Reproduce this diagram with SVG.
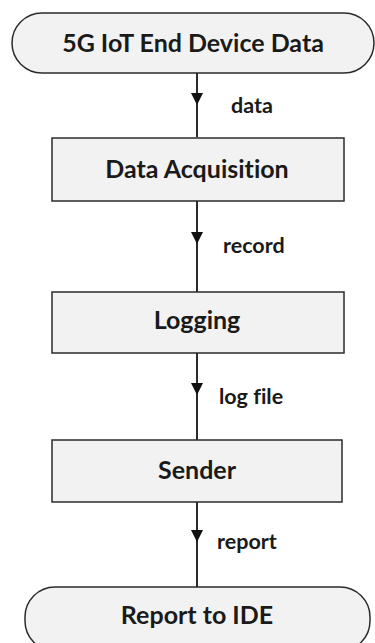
<svg xmlns="http://www.w3.org/2000/svg" width="375" height="643" viewBox="0 0 375 643">
<defs>
<style>
.box{fill:#f2f2f2;stroke:#2b2b2b;stroke-width:1.5}
.t{font-family:Lato,"Open Sans","Liberation Sans",sans-serif;font-weight:bold;fill:#1a1a1a;text-anchor:middle;font-size:25px;font-variant-ligatures:none}
.l{font-family:Lato,"Open Sans","Liberation Sans",sans-serif;font-weight:bold;fill:#1a1a1a;font-size:21.5px;font-variant-ligatures:none}
.c{stroke:#2b2b2b;stroke-width:2;fill:none}
.h{fill:#111}
</style>
</defs>
<rect width="375" height="643" fill="#ffffff"/>
<g id="connectors">
<line class="c" x1="197" y1="73" x2="197" y2="137"/>
<polygon class="h" points="191,93 203,93 197,105"/>
<text class="l" x="231" y="113">data</text>
<line class="c" x1="197" y1="201" x2="197" y2="292"/>
<polygon class="h" points="191,232 203,232 197,244"/>
<text class="l" x="223" y="253">record</text>
<line class="c" x1="197" y1="353" x2="197" y2="440"/>
<polygon class="h" points="191,383 203,383 197,395"/>
<text class="l" x="219" y="404">log file</text>
<line class="c" x1="197" y1="502" x2="197" y2="587"/>
<polygon class="h" points="191,530 203,530 197,542"/>
<text class="l" x="217" y="549">report</text>
</g>
<g id="n1">
<rect class="box" x="12" y="13" width="362" height="60" rx="30" ry="30"/>
<text class="t" x="193" y="52">5G IoT End Device Data</text>
</g>
<g id="n2">
<rect class="box" x="52" y="138" width="292" height="63"/>
<text class="t" x="197" y="178">Data Acquisition</text>
</g>
<g id="n3">
<rect class="box" x="52" y="292" width="292" height="61"/>
<text class="t" x="197" y="329">Logging</text>
</g>
<g id="n4">
<rect class="box" x="52" y="440" width="290" height="62"/>
<text class="t" x="197" y="479">Sender</text>
</g>
<g id="n5">
<rect class="box" x="25" y="587" width="345" height="64" rx="30" ry="30"/>
<text class="t" x="197" y="624">Report to IDE</text>
</g>
</svg>
